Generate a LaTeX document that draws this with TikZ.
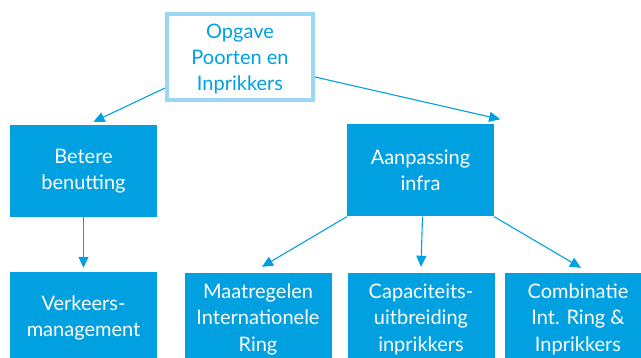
\documentclass[tikz,border=0pt]{standalone}
\usepackage{fontspec}
\setmainfont{Lato}
\usepackage{xcolor}
\usetikzlibrary{calc,arrows.meta}

\definecolor{rwsblue}{RGB}{0,160,225}
\definecolor{rwslight}{RGB}{155,214,242}

\begin{document}
\begin{tikzpicture}[x=1pt,y=-1pt,
    bluebox/.style={rectangle, fill=rwsblue, text=white, minimum width=147pt, minimum height=92pt, align=center, inner sep=0pt, font=\fontsize{20}{26.5}\selectfont},
    topbox/.style={rectangle, draw=rwslight, line width=4pt, fill=white, text=rwsblue, minimum width=146pt, minimum height=86pt, align=center, inner sep=0pt, font=\fontsize{20}{26}\selectfont},
    arr/.style={draw=rwsblue, line width=1.1pt, -{Triangle[length=11pt,width=10pt]}}]
            \useasboundingbox (0,0) rectangle (641,358);
            \clip (0,0) rectangle (641,358);
            \node[topbox] (opgave) at (240,57) {\strut Opgave\\Poorten en\\Inprikkers};
            \node[bluebox] (betere) at (83.5,171) {Betere\\benutting};
            \node[bluebox] (aanpassing) at (420.5,170.5) {Aanpassing\\infra};
            \node[bluebox] (verkeers) at (83.5,318) {Verkeers-\\management};
            \node[bluebox] (maatregelen) at (258,319) {Maatregelen\\Internationele\\Ring};
            \node[bluebox] (capaciteit) at (421,319) {Capaciteits-\\uitbreiding\\inprikkers};
            \node[bluebox] (combinatie) at (578,319) {Combinatie\\Int. Ring \&\\Inprikkers};

            \draw[arr] ([yshift=14pt]opgave.south west) -- ([xshift=10pt,yshift=3pt]betere.north);
            \draw[arr] ([yshift=-20pt]opgave.east) -- ([xshift=6pt,yshift=5pt]aanpassing.north east);
            \draw[arr] (betere.south) -- ([yshift=4pt]verkeers.north);
            \draw[arr] (aanpassing.south west) -- ([xshift=4pt,yshift=6pt]maatregelen.north);
            \draw[arr] ([xshift=2pt]aanpassing.south) -- ([yshift=6pt]capaciteit.north);
            \draw[arr] (aanpassing.south east) -- ([xshift=3pt,yshift=5pt]combinatie.north);

        \end{tikzpicture}
\end{document}
